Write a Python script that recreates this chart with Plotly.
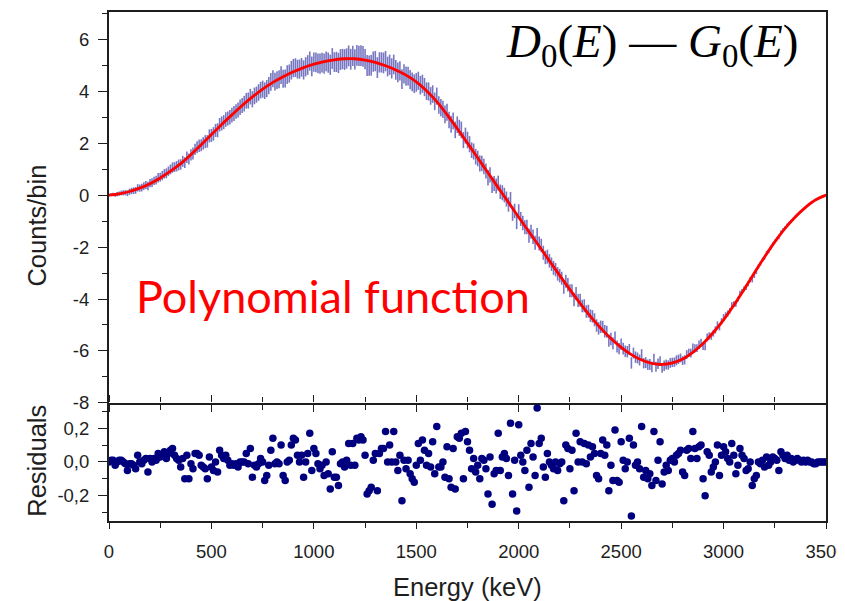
import plotly.graph_objects as go

# ---------------- data ----------------
energy_keV = list(range(0, 3501, 10))          # 10 keV bins, 0 ... 3500 keV

counts = [
    0.00, 0.02, 0.03, 0.01, 0.04, 0.06, 0.08, 0.09, 0.09, 0.07,
    0.13, 0.16, 0.17, 0.18, 0.28, 0.27, 0.29, 0.35, 0.39, 0.35,
    0.46, 0.48, 0.55, 0.58, 0.67, 0.69, 0.75, 0.82, 0.84, 0.92,
    0.99, 1.06, 1.08, 1.11, 1.16, 1.18, 1.30, 1.25, 1.46, 1.39,
    1.55, 1.60, 1.76, 1.84, 1.90, 1.92, 1.99, 2.06, 2.07, 2.28,
    2.30, 2.36, 2.49, 2.50, 2.71, 2.76, 2.81, 2.91, 2.95, 3.00,
    3.08, 3.14, 3.22, 3.28, 3.38, 3.45, 3.52, 3.63, 3.64, 3.79,
    3.69, 3.82, 3.87, 3.95, 4.04, 4.08, 4.02, 4.10, 4.22, 4.36,
    4.48, 4.37, 4.43, 4.46, 4.62, 4.48, 4.49, 4.64, 4.68, 4.81,
    4.89, 4.91, 4.85, 4.85, 4.92, 4.82, 4.94, 5.01, 5.16, 4.96,
    5.12, 5.11, 5.07, 5.06, 5.10, 5.06, 5.15, 5.10, 5.02, 5.26,
    5.12, 5.13, 5.09, 5.22, 5.24, 5.22, 5.26, 5.36, 5.23, 5.36,
    5.23, 5.38, 5.36, 5.37, 5.34, 5.24, 4.99, 4.99, 5.00, 5.14,
    5.16, 4.91, 5.11, 5.11, 5.09, 5.16, 4.95, 5.02, 4.88, 5.03,
    4.82, 4.73, 4.78, 4.47, 4.67, 4.58, 4.58, 4.45, 4.36, 4.29,
    4.34, 4.40, 4.23, 4.29, 4.16, 4.00, 3.99, 3.82, 3.89, 3.61,
    3.81, 3.47, 3.37, 3.30, 3.11, 3.19, 2.89, 2.73, 2.86, 2.51,
    2.71, 2.59, 2.51, 2.12, 2.29, 2.12, 1.96, 1.73, 1.68, 1.48,
    1.41, 1.22, 1.22, 1.10, 0.93, 0.67, 0.78, 0.38, 0.45, 0.35,
    0.46, 0.13, 0.09, 0.00, -0.15, -0.36, -0.16, -0.70, -0.61, -1.03,
    -0.63, -0.92, -1.07, -1.24, -1.23, -1.56, -1.41, -1.60, -1.83, -1.54,
    -1.86, -1.94, -2.22, -2.40, -2.37, -2.53, -2.66, -2.80, -2.87, -3.03,
    -3.10, -3.20, -3.54, -3.32, -3.45, -3.68, -3.68, -4.02, -3.79, -4.06,
    -4.05, -4.27, -4.26, -4.48, -4.47, -4.64, -4.67, -4.80, -5.02, -5.13,
    -5.07, -5.07, -5.24, -5.26, -5.61, -5.54, -5.70, -5.47, -5.83, -5.91,
    -5.74, -5.91, -6.01, -6.03, -5.94, -6.46, -6.08, -6.24, -6.27, -6.35,
    -6.14, -6.47, -6.45, -6.53, -6.52, -6.62, -6.31, -6.61, -6.49, -6.39,
    -6.65, -6.57, -6.52, -6.54, -6.46, -6.44, -6.43, -6.36, -6.32, -6.27,
    -6.37, -6.34, -6.14, -6.07, -6.08, -5.87, -5.90, -5.89, -5.76, -5.68,
    -5.81, -5.83, -5.48, -5.42, -5.43, -5.32, -5.19, -4.99, -5.08, -4.86,
    -4.71, -4.63, -4.56, -4.46, -4.24, -4.20, -4.19, -4.01, -3.79, -3.71,
    -3.61, -3.55, -3.42, -3.25, -3.27, -3.10, -2.96, -2.75, -2.64, -2.49,
    -2.41, -2.23, -2.17, -2.03, -1.89, -1.78, -1.69, -1.64, -1.43, -1.34,
    -1.26, -1.15, -1.09, -1.00, -0.93, -0.83, -0.75, -0.68, -0.62, -0.53,
    -0.47, -0.40, -0.35, -0.30, -0.25, -0.19, -0.14, -0.11, -0.07, -0.04,
    0.00,
]

count_errors = [
    0.04, 0.05, 0.06, 0.07, 0.08, 0.08, 0.09, 0.10, 0.10, 0.11,
    0.12, 0.12, 0.13, 0.13, 0.14, 0.14, 0.15, 0.15, 0.15, 0.16,
    0.16, 0.17, 0.16, 0.17, 0.18, 0.17, 0.18, 0.18, 0.19, 0.18,
    0.19, 0.20, 0.19, 0.20, 0.21, 0.20, 0.21, 0.21, 0.22, 0.21,
    0.22, 0.23, 0.22, 0.23, 0.24, 0.23, 0.24, 0.25, 0.24, 0.25,
    0.25, 0.26, 0.25, 0.27, 0.26, 0.27, 0.27, 0.28, 0.27, 0.28,
    0.28, 0.29, 0.28, 0.29, 0.30, 0.29, 0.30, 0.30, 0.31, 0.30,
    0.31, 0.32, 0.31, 0.32, 0.32, 0.33, 0.32, 0.33, 0.33, 0.34,
    0.33, 0.34, 0.34, 0.35, 0.34, 0.35, 0.35, 0.36, 0.35, 0.36,
    0.35, 0.36, 0.36, 0.37, 0.36, 0.37, 0.37, 0.38, 0.37, 0.38,
    0.37, 0.38, 0.38, 0.39, 0.38, 0.39, 0.38, 0.39, 0.39, 0.40,
    0.38, 0.39, 0.39, 0.40, 0.39, 0.40, 0.39, 0.40, 0.40, 0.39,
    0.39, 0.40, 0.39, 0.40, 0.40, 0.39, 0.40, 0.39, 0.40, 0.39,
    0.39, 0.40, 0.39, 0.39, 0.40, 0.39, 0.38, 0.39, 0.39, 0.38,
    0.38, 0.38, 0.37, 0.38, 0.37, 0.37, 0.36, 0.37, 0.36, 0.36,
    0.36, 0.35, 0.36, 0.35, 0.35, 0.34, 0.35, 0.34, 0.34, 0.34,
    0.33, 0.34, 0.33, 0.33, 0.34, 0.33, 0.32, 0.33, 0.32, 0.32,
    0.32, 0.31, 0.32, 0.31, 0.31, 0.32, 0.31, 0.30, 0.31, 0.30,
    0.30, 0.31, 0.30, 0.30, 0.29, 0.30, 0.29, 0.30, 0.29, 0.29,
    0.29, 0.28, 0.29, 0.28, 0.29, 0.28, 0.28, 0.29, 0.28, 0.28,
    0.28, 0.27, 0.28, 0.27, 0.28, 0.27, 0.27, 0.28, 0.27, 0.27,
    0.27, 0.26, 0.27, 0.26, 0.27, 0.26, 0.26, 0.27, 0.26, 0.26,
    0.26, 0.25, 0.26, 0.25, 0.26, 0.25, 0.25, 0.26, 0.25, 0.25,
    0.25, 0.24, 0.25, 0.24, 0.25, 0.24, 0.24, 0.25, 0.24, 0.24,
    0.24, 0.23, 0.24, 0.23, 0.23, 0.24, 0.23, 0.22, 0.23, 0.22,
    0.22, 0.23, 0.22, 0.22, 0.21, 0.22, 0.21, 0.22, 0.21, 0.21,
    0.21, 0.20, 0.21, 0.20, 0.21, 0.20, 0.20, 0.19, 0.20, 0.19,
    0.19, 0.20, 0.19, 0.18, 0.19, 0.18, 0.18, 0.19, 0.18, 0.17,
    0.17, 0.18, 0.17, 0.16, 0.17, 0.16, 0.16, 0.15, 0.16, 0.15,
    0.15, 0.14, 0.15, 0.14, 0.14, 0.13, 0.14, 0.13, 0.13, 0.12,
    0.13, 0.12, 0.12, 0.11, 0.12, 0.11, 0.11, 0.10, 0.11, 0.10,
    0.10, 0.10, 0.09, 0.10, 0.09, 0.09, 0.08, 0.09, 0.08, 0.08,
    0.08, 0.08, 0.07, 0.08, 0.07, 0.07, 0.07, 0.06, 0.07, 0.06,
    0.06, 0.06, 0.06, 0.05, 0.06, 0.05, 0.05, 0.05, 0.05, 0.04,
    0.04, 0.04, 0.04, 0.04, 0.03, 0.03, 0.03, 0.03, 0.03, 0.02,
    0.02,
]

residuals = [
    0.00, 0.01, 0.01, -0.02, 0.00, 0.01, 0.01, 0.00, -0.01, -0.05,
    -0.01, -0.01, -0.02, -0.04, 0.04, 0.00, -0.01, 0.01, 0.02, -0.06,
    0.02, 0.00, 0.02, 0.01, 0.05, 0.03, 0.04, 0.06, 0.02, 0.05,
    0.07, 0.08, 0.04, 0.02, 0.01, -0.03, 0.02, -0.10, 0.04, -0.10,
    -0.01, -0.04, 0.05, 0.05, 0.04, -0.02, -0.03, -0.04, -0.10, 0.03,
    -0.03, -0.05, 0.00, -0.06, 0.07, 0.04, 0.02, 0.04, 0.01, -0.02,
    -0.01, -0.02, -0.01, -0.03, 0.00, 0.00, 0.00, 0.05, -0.01, 0.08,
    -0.09, -0.02, -0.03, -0.01, 0.02, 0.00, -0.11, -0.08, -0.02, 0.07,
    0.14, -0.01, 0.00, -0.01, 0.10, -0.08, -0.11, 0.00, 0.01, 0.10,
    0.14, 0.13, 0.04, 0.00, 0.04, -0.09, 0.00, 0.05, 0.17, -0.05,
    0.08, 0.05, -0.01, -0.04, -0.02, -0.08, 0.00, -0.07, -0.16, 0.06,
    -0.09, -0.09, -0.14, -0.01, 0.00, -0.03, 0.01, 0.11, -0.02, 0.11,
    -0.02, 0.14, 0.13, 0.15, 0.13, 0.04, -0.19, -0.17, -0.15, 0.01,
    0.05, -0.17, 0.05, 0.08, 0.08, 0.18, 0.00, 0.10, 0.00, 0.18,
    0.00, -0.05, 0.04, -0.23, 0.01, -0.04, 0.01, -0.07, -0.10, -0.12,
    -0.02, 0.11, 0.01, 0.13, 0.07, -0.02, 0.05, -0.03, 0.12, -0.07,
    0.21, -0.03, -0.03, 0.00, -0.09, 0.09, -0.10, -0.15, 0.08, -0.16,
    0.15, 0.14, 0.17, -0.10, 0.18, 0.12, 0.07, -0.04, 0.02, -0.06,
    -0.02, -0.10, 0.02, 0.01, -0.04, -0.19, 0.03, -0.25, -0.07, -0.05,
    0.17, -0.05, 0.03, 0.05, 0.02, -0.08, 0.23, -0.19, 0.01, -0.29,
    0.22, 0.04, 0.00, -0.05, 0.07, -0.15, 0.11, 0.03, -0.08, 0.32,
    0.11, 0.14, -0.03, -0.09, 0.05, 0.00, -0.02, -0.04, 0.00, -0.05,
    -0.01, 0.00, -0.23, 0.10, 0.08, -0.04, 0.07, -0.17, 0.17, 0.00,
    0.12, 0.00, 0.11, -0.01, 0.10, 0.03, 0.09, 0.05, -0.08, -0.10,
    0.05, 0.13, 0.04, 0.10, -0.17, -0.02, -0.11, 0.19, -0.11, -0.12,
    0.12, 0.01, -0.04, 0.00, 0.14, -0.32, 0.10, -0.02, 0.00, -0.04,
    0.21, -0.09, -0.05, -0.10, -0.07, -0.14, 0.18, -0.11, 0.01, 0.12,
    -0.13, -0.06, -0.02, -0.05, 0.01, 0.02, 0.00, 0.04, 0.05, 0.07,
    -0.06, -0.08, 0.07, 0.08, 0.02, 0.18, 0.08, 0.02, 0.09, 0.10,
    -0.10, -0.20, 0.06, 0.04, -0.06, -0.03, 0.00, 0.10, -0.08, 0.04,
    0.09, 0.06, 0.02, 0.00, 0.11, 0.04, -0.07, -0.02, 0.08, 0.04,
    0.02, -0.05, -0.04, 0.00, -0.14, -0.10, -0.08, 0.00, -0.01, 0.01,
    -0.03, 0.03, -0.02, 0.00, 0.03, 0.02, 0.01, -0.05, 0.06, 0.04,
    0.02, 0.04, 0.01, 0.02, 0.00, 0.01, 0.02, 0.01, 0.00, 0.01,
    0.00, 0.01, 0.00, 0.00, -0.01, -0.01, 0.00, 0.00, 0.00, 0.00,
    0.00,
]

fit_energy_keV = list(range(0, 3501, 50))
fit_counts = [
    0.00, 0.05, 0.14, 0.27, 0.44, 0.66, 0.92, 1.21, 1.56, 1.94,
    2.33, 2.72, 3.09, 3.45, 3.78, 4.08, 4.34, 4.56, 4.75, 4.91,
    5.04, 5.14, 5.21, 5.25, 5.25, 5.20, 5.11, 4.98, 4.82, 4.62,
    4.36, 4.02, 3.60, 3.10, 2.56, 2.00, 1.43, 0.86, 0.29, -0.28,
    -0.85, -1.41, -1.97, -2.53, -3.09, -3.64, -4.17, -4.67, -5.12, -5.52,
    -5.86, -6.14, -6.35, -6.48, -6.52, -6.46, -6.31, -6.05, -5.71, -5.29,
    -4.80, -4.24, -3.63, -3.00, -2.38, -1.80, -1.28, -0.84, -0.47, -0.18,
    0.00,
]

x_tick_vals = [0, 500, 1000, 1500, 2000, 2500, 3000, 3500]
x_tick_text = ["0", "500", "1000", "1500", "2000", "2500", "3000", "3500"]
x_minor_vals = [250, 750, 1250, 1750, 2250, 2750, 3250]
y_tick_vals = [-8, -6, -4, -2, 0, 2, 4, 6]
y_tick_text = ["-8", "-6", "-4", "-2", "0", "2", "4", "6"]
y_minor_vals = [-7, -5, -3, -1, 1, 3, 5, 7]
res_tick_vals = [-0.2, 0.0, 0.2]
res_tick_text = ["-0,2", "0,0", "0,2"]
res_minor_vals = [-0.3, -0.1, 0.1, 0.3]

# ---------------- figure ----------------
AX = "#1e1e1e"
NOTICK = "rgba(0,0,0,0)"
TICKFONT = dict(family="Liberation Sans, Arial, sans-serif", size=18.5, color="#1e1e1e")

fig = go.Figure()

fig.add_trace(go.Scatter(
    x=energy_keV, y=counts, mode="markers",
    marker=dict(size=3, color="rgba(0,0,0,0)"),
    error_y=dict(type="data", array=count_errors, visible=True,
                 color="rgba(35,35,155,0.62)", thickness=1.6, width=0),
    xaxis="x", yaxis="y", showlegend=False, hoverinfo="skip",
))
fig.add_trace(go.Scatter(
    x=fit_energy_keV, y=fit_counts, mode="lines",
    line=dict(color="#ff0000", width=2.8, shape="spline"),
    xaxis="x", yaxis="y", showlegend=False,
))
fig.add_trace(go.Scatter(
    x=energy_keV, y=residuals, mode="markers",
    marker=dict(size=7.5, color="#00007f"),
    xaxis="x2", yaxis="y2", showlegend=False,
))
# invisible copies that only make the helper axes (upward ticks / tick labels) get drawn
fig.add_trace(go.Scatter(x=energy_keV, y=residuals, mode="markers",
                         marker=dict(size=1, color="rgba(0,0,0,0)"),
                         xaxis="x3", yaxis="y2", showlegend=False, hoverinfo="skip"))
fig.add_trace(go.Scatter(x=energy_keV, y=counts, mode="markers",
                         marker=dict(size=1, color="rgba(0,0,0,0)"),
                         xaxis="x", yaxis="y3", showlegend=False, hoverinfo="skip"))
fig.add_trace(go.Scatter(x=energy_keV, y=residuals, mode="markers",
                         marker=dict(size=1, color="rgba(0,0,0,0)"),
                         xaxis="x2", yaxis="y4", showlegend=False, hoverinfo="skip"))

split = 0.232
common_axis = dict(showline=True, linecolor=AX, linewidth=1.6, showgrid=False,
                   zeroline=False, tickcolor=AX, tickwidth=1.4, tickfont=TICKFONT)
minor_x = dict(tickmode="array", tickvals=x_minor_vals, ticks="outside",
               ticklen=5, tickcolor=AX, tickwidth=1.4)
label_axis = dict(showline=False, showgrid=False, zeroline=False, side="left",
                  ticks="outside", ticklen=15, tickcolor=NOTICK, tickfont=TICKFONT,
                  tickmode="array")

fig.update_layout(
    width=845, height=601,
    # the page body has an 8 px margin, so shift the figure's plot area back
    margin=dict(l=101, r=27, t=2, b=88),
    paper_bgcolor="white", plot_bgcolor="white",
    showlegend=False,
    xaxis=dict(common_axis, domain=[0, 1], anchor="y", range=[0, 3500],
               tickmode="array", tickvals=x_tick_vals, ticktext=x_tick_text,
               showticklabels=False, ticks="outside", ticklen=7, mirror=True,
               minor=minor_x),
    yaxis=dict(common_axis, domain=[split, 1], anchor="x", range=[-8, 7.05],
               tickmode="array", tickvals=y_tick_vals, showticklabels=False,
               ticks="outside", ticklen=9, mirror=True,
               minor=dict(tickmode="array", tickvals=y_minor_vals, ticks="outside",
                          ticklen=5, tickcolor=AX, tickwidth=1.4)),
    yaxis3=dict(label_axis, overlaying="y", anchor="x", range=[-8, 7.05],
                tickvals=y_tick_vals, ticktext=y_tick_text),
    xaxis2=dict(common_axis, domain=[0, 1], anchor="y2", range=[0, 3500],
                tickmode="array", tickvals=x_tick_vals, ticktext=x_tick_text,
                ticks="outside", ticklen=6, mirror=False, ticklabelstandoff=7,
                ticklabeloverflow="allow", minor=minor_x),
    xaxis3=dict(overlaying="x2", anchor="y2", side="top", range=[0, 3500],
                showline=False, showgrid=False, zeroline=False,
                tickmode="array", tickvals=x_tick_vals, showticklabels=False,
                ticks="outside", ticklen=7, tickcolor=AX, tickwidth=1.4,
                minor=minor_x),
    yaxis2=dict(common_axis, domain=[0, split], anchor="x2", range=[-0.35, 0.35],
                tickmode="array", tickvals=res_tick_vals, showticklabels=False,
                ticks="outside", ticklen=9, mirror=True,
                minor=dict(tickmode="array", tickvals=res_minor_vals, ticks="outside",
                           ticklen=5, tickcolor=AX, tickwidth=1.4)),
    yaxis4=dict(label_axis, overlaying="y2", anchor="x2", range=[-0.35, 0.35],
                tickvals=res_tick_vals, ticktext=res_tick_text),
)

TITLEFONT = dict(family="Liberation Sans, Arial, sans-serif", size=25.5, color="#1e1e1e")
fig.add_annotation(text="Counts/bin", xref="paper", yref="paper", x=-0.100, y=0.581,
                   textangle=-90, showarrow=False, font=TITLEFONT,
                   xanchor="center", yanchor="middle")
fig.add_annotation(text="Residuals", xref="paper", yref="paper", x=-0.100, y=0.119,
                   textangle=-90, showarrow=False, font=TITLEFONT,
                   xanchor="center", yanchor="middle")
fig.add_annotation(text="Energy (keV)", xref="paper", yref="paper", x=0.5, y=-0.129,
                   showarrow=False, font=TITLEFONT, xanchor="center", yanchor="middle")
fig.add_annotation(text="Polynomial function", xref="paper", yref="paper",
                   x=0.035, y=0.443, showarrow=False,
                   font=dict(family="Lato, Carlito, sans-serif", size=45, color="#ff0000"),
                   xanchor="left", yanchor="middle")
fig.add_annotation(text="<i>D</i><sub>0</sub>(<i>E</i>) — <i>G</i><sub>0</sub>(<i>E</i>)",
                   xref="paper", yref="paper", x=0.7577, y=0.936, showarrow=False,
                   font=dict(family="Liberation Serif, Times New Roman, serif", size=47,
                             color="#000000"),
                   xanchor="center", yanchor="middle")

fig.write_html("out.html")
